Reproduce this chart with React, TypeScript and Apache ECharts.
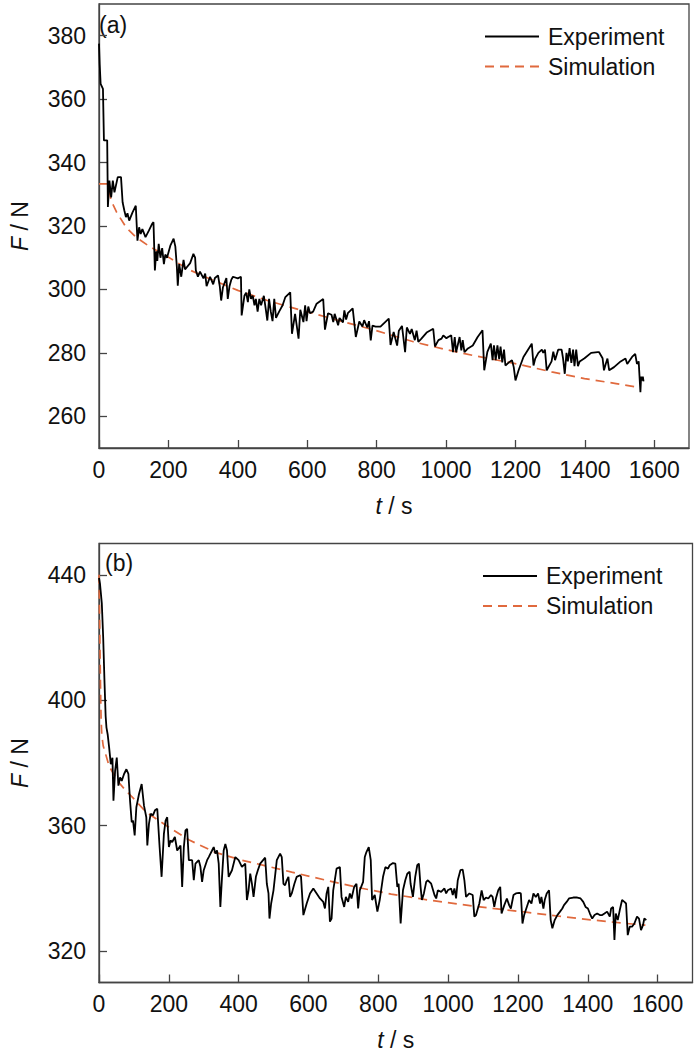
import React, { useEffect, useRef } from "react";
import * as echarts from "echarts";

const FONT = "'Liberation Sans', Arial, Helvetica, sans-serif";
const AXIS_COLOR = "#444";
const TEXT_COLOR = "#111";
const SIM_COLOR = "#E0693D";

const xTicks = [0, 200, 400, 600, 800, 1000, 1200, 1400, 1600];
const yTicksA = [260, 280, 300, 320, 340, 360, 380];
const yTicksB = [320, 360, 400, 440];
const legendNames = ["Experiment", "Simulation"];

// Panel (a): experiment, [t (s), F (N)]
const expA = [
  [0, 377.5], [2, 371], [4.7, 364.8], [11.4, 363.2], [14.2, 347], [23.6, 347], [25.6, 326],
  [30, 334.3], [35, 329], [39.8, 334.3], [44.5, 330.6], [54, 335.4], [63.4, 335.4], [68, 327.5],
  [73, 324.9], [77.6, 322.8], [82, 324], [87, 321.7], [96.6, 324.3], [106, 326.4], [110.8, 315.4],
  [115.6, 319.6], [120, 317.5], [125, 319], [134, 316.5], [144, 318.6], [153, 320.7], [157, 321.2],
  [161, 306], [165, 312], [168, 309], [172, 314.4], [177, 310], [182, 313], [187, 308], [191, 311],
  [196, 310], [205.5, 313.8], [215, 316], [220, 313.5], [224.4, 307], [227, 301.2], [231, 308],
  [237, 304], [243.6, 309.3], [248, 306.3], [253, 307], [262.6, 308.3], [272, 311.2], [277, 310],
  [279, 306], [285, 304], [291, 305.6], [301, 303.5], [306, 305], [310, 301], [320, 304],
  [329, 301.6], [334, 303.6], [343, 304.4], [348, 301], [352, 296.5], [357, 300.6], [367, 303.6],
  [371, 297], [376, 301], [381, 303], [386, 304], [400, 303.5], [409, 304], [411, 291.8],
  [419, 298], [424, 299], [429, 296], [433, 300], [438, 297], [443, 298], [448, 295], [452, 297],
  [457, 293], [462, 297], [467, 295], [475, 298], [481, 293.4], [485, 290.2], [490, 297],
  [495, 293], [500, 290], [505, 297], [510, 291], [519, 293], [529, 295], [537, 297.6],
  [551, 299.1], [556, 286], [565, 292.3], [575, 284.5], [580, 293.6], [589, 289.7], [594, 295],
  [598, 290], [603, 294.6], [608, 292.5], [617, 293], [627, 295.5], [646, 297], [651, 287.3],
  [660, 292.5], [670, 292], [675, 289.7], [679, 292.3], [689, 288.7], [693, 291], [703, 289.6],
  [707, 293.4], [712, 290.5], [717, 292.5], [731, 294], [740, 285], [750, 289.9], [759, 288.3],
  [764, 290.3], [773, 288], [778, 290], [783, 283.9], [788, 288.6], [797, 288.3], [811, 288.3],
  [835, 290.8], [840, 282.5], [849, 286.6], [859, 282.3], [864, 287], [873, 288.5], [882, 280.2],
  [887, 288], [896, 286], [901, 287.5], [910, 284], [915, 287], [920, 283.5], [929, 284.5],
  [944, 286.4], [963, 287.6], [968, 282], [978, 284], [987, 284.5], [992, 285.5], [1001, 284.6],
  [1006, 285], [1015, 285.5], [1020, 280.2], [1025, 285], [1029, 280.2], [1039, 285],
  [1044, 280.8], [1048, 284], [1053, 280.2], [1063, 281.4], [1077, 282.3], [1091, 285],
  [1105, 287.1], [1110, 274.5], [1119, 280.3], [1129, 282.9], [1134, 277.7], [1138, 282.4],
  [1143, 277.7], [1148, 282.4], [1153, 278], [1157, 282], [1162, 277], [1167, 281], [1171, 276],
  [1181, 277], [1190, 277.7], [1195, 275.5], [1200, 271.3], [1209, 274.5], [1223, 278.7],
  [1247, 282.9], [1252, 276], [1257, 278.2], [1266, 280], [1276, 281], [1280, 280], [1285, 281],
  [1290, 274.5], [1304, 277.3], [1309, 280.4], [1314, 277.7], [1323, 281], [1333, 281],
  [1337, 278.3], [1342, 273.4], [1347, 280], [1351, 277.3], [1356, 281.5], [1361, 276.8],
  [1366, 281], [1370, 275.8], [1375, 281], [1380, 275.8], [1385, 277.3], [1399, 278.3],
  [1418, 280], [1437, 280.2], [1441, 280.2], [1451, 278.3], [1455, 274.5], [1460, 276.5],
  [1465, 278.2], [1470, 274.5], [1484, 275.5], [1503, 277.3], [1517, 278.2], [1522, 276.5],
  [1536, 278.7], [1545, 279.7], [1550, 276.5], [1555, 277.3], [1560, 267.6], [1562, 272.5],
  [1565, 271.3], [1567, 272.5], [1569, 271],
];

// Panel (a): simulation
const simA = [
  [0, 333.3], [25, 333.3], [35, 328], [50, 324.5], [78, 319.6], [106, 316.5], [149, 313.3],
  [201, 310.1], [258, 306.3], [305, 304], [400, 299.7], [485, 296.5], [551, 294.4], [622, 292.3],
  [707, 289.7], [793, 287.2], [906, 283.5], [1001, 281], [1086, 279], [1209, 276.4], [1304, 274],
  [1399, 271.9], [1490, 270.3], [1560, 269],
];

// Panel (b): experiment
const expB = [
  [0, 439], [3, 437], [8, 431], [12, 420], [16, 405], [19, 395], [21.4, 391.3], [25, 389],
  [29, 385], [33.8, 379.6], [38.5, 381.7], [41.4, 368], [46.1, 377.5], [50.9, 381.7],
  [55.6, 372.8], [60.4, 375.4], [65.1, 374.3], [71.8, 376.5], [78.5, 378], [84.2, 376.5],
  [88.9, 368], [93.7, 361.1], [97.5, 361.6], [102.2, 356.9], [107, 365.9], [114.6, 370.1],
  [122.2, 373.3], [128.9, 366.4], [135.5, 362.7], [138.4, 353.7], [143.1, 360.6], [147.9, 363.8],
  [154.5, 363.3], [160.3, 364.9], [166.9, 365.4], [173.6, 353.2], [179.3, 343.7], [185.9, 357.4],
  [190.7, 361.6], [195.4, 362.7], [200.2, 353.2], [204.9, 355.3], [209.7, 354.8], [217.3, 356.4],
  [224, 352.1], [233.5, 353.7], [238.2, 340.5], [243, 353.2], [247.7, 358.5], [252.5, 359],
  [257.3, 349], [266.8, 349], [271.5, 342.6], [276.3, 347.9], [285.8, 349], [290.5, 346.9],
  [295.3, 342.1], [300, 345.8], [309.6, 349], [314.3, 350], [323.8, 352.1], [328.6, 353.2],
  [333.3, 351.1], [338.1, 352.1], [342.9, 347.9], [347.6, 334.1], [352.4, 343.7], [357.1, 352.1],
  [361.9, 354.2], [366.6, 352.1], [371.4, 343.7], [380.9, 345.8], [390.4, 350], [399.9, 349],
  [409.4, 346.9], [418.9, 347.9], [423.7, 336.3], [428.4, 339.4], [433.2, 344.7], [438, 341.5],
  [442.7, 337.3], [449.4, 343.7], [455, 345.8], [461.7, 347.9], [476, 349.8], [480.7, 341.5],
  [485.5, 338.4], [488.3, 330.4], [493.1, 335.2], [499.8, 339.4], [509.3, 349], [518.8, 351.1],
  [523.5, 350], [528.3, 341.5], [533, 341], [537.8, 342.6], [542.6, 343.7], [547.3, 337.3],
  [552.1, 338.4], [559.7, 341.5], [566.3, 343.7], [575.9, 344.2], [578.7, 343.7], [585.4, 331.5],
  [594.9, 335.2], [604.4, 338.4], [613.9, 340], [623.4, 338.4], [632.9, 336.8], [642.4, 335.7],
  [647.2, 333.6], [651.9, 338.4], [656.7, 340.5], [661.4, 329.4], [666.2, 330.4], [670.9, 339.4],
  [680.5, 346.3], [690, 346.8], [694.7, 337.3], [702.3, 334.1], [707.1, 337.3], [713.7, 335.7],
  [718.5, 338.4], [723.3, 336.8], [730.9, 340.5], [737.5, 341.5], [742.3, 333.6], [747, 339.4],
  [756.5, 342.1], [761.3, 350], [766, 351.6], [772.7, 353.2], [778.4, 349], [782.2, 336.3],
  [789.8, 337.9], [797.4, 332.6], [804.1, 336.3], [813.6, 343.7], [820.3, 346.8], [827.9, 346.3],
  [832.6, 347.4], [842.1, 348.1], [848.8, 347.9], [854.5, 340.5], [858.3, 341.5], [864, 328.8],
  [870.7, 339.4], [877.3, 342.6], [883, 344.7], [889.7, 345.3], [892.5, 341.5], [899.2, 337.3],
  [905.8, 343.7], [911.6, 347.4], [916.3, 347.9], [921.1, 340.5], [924.9, 336.3], [930.6, 338.4],
  [937.2, 342.1], [942, 342.6], [951.5, 341.5], [961, 337.9], [965.8, 336.8], [970.5, 339.4],
  [980, 338.9], [989.5, 340], [994.3, 338.4], [999, 339.4], [1008.6, 340], [1013.3, 337.9],
  [1018.1, 340], [1022.8, 336.8], [1027.6, 342.6], [1035.2, 345.8], [1041.8, 346], [1046.6, 342.6],
  [1051.3, 337.3], [1060.9, 338.4], [1070.4, 337.9], [1075.1, 331], [1079.9, 331.5], [1089.4, 335.2],
  [1096, 339.4], [1101.8, 336.3], [1108.4, 337.1], [1115.1, 336.8], [1122.7, 337.9], [1127.4, 337.3],
  [1132.2, 334.1], [1136.9, 336.8], [1143.6, 339.4], [1149.3, 340.5], [1153.1, 332], [1160.7, 334.6],
  [1168.3, 336.8], [1175, 334.6], [1179.7, 333.6], [1187.3, 337.9], [1194, 338.4], [1203.5, 338.6],
  [1208.3, 338.4], [1213, 328.8], [1217.8, 331.5], [1225.4, 334.1], [1232, 336.3], [1238.7, 335.2],
  [1244.4, 338.4], [1251.1, 337.3], [1257.7, 338.4], [1263.4, 335.2], [1267.2, 337.3], [1272.9, 333.6],
  [1276.7, 336.3], [1282.4, 338.4], [1289.1, 339.4], [1293.8, 329.9], [1298.6, 327.3], [1305.3, 329.9],
  [1312.9, 331.5], [1320.5, 332.6], [1327.1, 333.6], [1331.9, 334.7], [1339.5, 335.7], [1346.2, 336.8],
  [1358.5, 337.1], [1369.9, 337.1], [1379.4, 336.8], [1387.1, 335.7], [1393.7, 334.1], [1400.4, 333.6],
  [1406.1, 332], [1412.7, 330.4], [1419.4, 331.5], [1427, 332], [1434.6, 331.5], [1441.3, 331.5],
  [1447.9, 332], [1455.5, 332.6], [1463.1, 331], [1466.9, 333.6], [1472.6, 334.1], [1476.4, 323.6],
  [1480.2, 332], [1485.9, 329.9], [1491.7, 333.1], [1498.3, 336.3], [1505, 335.7], [1509.7, 335.2],
  [1514.5, 325.1], [1520.2, 327.8], [1526.8, 327.8], [1533.5, 328.8], [1541.1, 331], [1546.8, 330.4],
  [1552.5, 326.7], [1558.2, 328.3], [1562, 330.4], [1567.7, 329.9],
];

// Panel (b): simulation
const simB = [
  [0, 440], [1.5, 428], [3, 415], [4.5, 403], [6, 394], [8, 389], [12, 385.5], [29, 379],
  [53, 374.3], [76, 371.3], [105, 368], [133, 364.5], [200, 359.5], [257, 355.5], [333, 351.5],
  [409, 349], [485, 347], [552, 345.2], [647, 342.7], [742, 340.3], [837, 338.2], [932, 336.5],
  [1028, 335], [1123, 333.7], [1218, 332.5], [1313, 331.2], [1408, 330], [1503, 328.9], [1565, 328.3],
];

const FS = 23;
const plain = (v: number) => String(v);

function xAxisCfg(gridIndex: number) {
  return {
    type: "value",
    gridIndex,
    min: 0,
    max: 1700,
    axisLine: { show: true, onZero: false, lineStyle: { color: AXIS_COLOR, width: 1.3 } },
    axisTick: { show: true, inside: true, length: 8, customValues: xTicks, lineStyle: { color: AXIS_COLOR, width: 1.3 } },
    axisLabel: { customValues: xTicks, formatter: plain, fontSize: FS, color: TEXT_COLOR, fontFamily: FONT, margin: 10 },
    splitLine: { show: false },
    name: "{i|t} / s",
    nameLocation: "middle",
    nameGap: 46,
    nameMoveOverlap: false,
    nameTextStyle: {
      fontSize: FS, color: TEXT_COLOR, fontFamily: FONT,
      rich: { i: { fontStyle: "italic", fontSize: FS, color: TEXT_COLOR, fontFamily: FONT } },
    },
  };
}

function yAxisCfg(gridIndex: number, min: number, max: number, ticks: number[]) {
  return {
    type: "value",
    gridIndex,
    min,
    max,
    axisLine: { show: true, onZero: false, lineStyle: { color: AXIS_COLOR, width: 1.3 } },
    axisTick: { show: true, inside: true, length: 8, customValues: ticks, lineStyle: { color: AXIS_COLOR, width: 1.3 } },
    axisLabel: { customValues: ticks, formatter: plain, fontSize: FS, color: TEXT_COLOR, fontFamily: FONT, margin: 13 },
    splitLine: { show: false },
    name: "{i|F} / N",
    nameLocation: "middle",
    nameGap: 68,
    nameRotate: 90,
    nameMoveOverlap: false,
    nameTextStyle: {
      fontSize: FS, color: TEXT_COLOR, fontFamily: FONT,
      rich: { i: { fontStyle: "italic", fontSize: FS, color: TEXT_COLOR, fontFamily: FONT } },
    },
  };
}

function legendCfg(left: number, top: number) {
  return {
    orient: "vertical",
    left,
    top,
    padding: 0,
    itemWidth: 54,
    itemHeight: 14,
    itemGap: 7,
    data: legendNames,
    selectedMode: false,
    itemStyle: { opacity: 0 },
    textStyle: { fontSize: FS, color: TEXT_COLOR, fontFamily: FONT, padding: [0, 0, 0, 4] },
  };
}

function expSeries(idx: number, data: number[][]) {
  return {
    type: "line",
    name: "Experiment",
    xAxisIndex: idx,
    yAxisIndex: idx,
    data,
    symbol: "none",
    showSymbol: false,
    lineStyle: { color: "#000", width: 1.8 },
    itemStyle: { color: "#000" },
    z: 4,
  };
}

function simSeries(idx: number, data: number[][]) {
  return {
    type: "line",
    name: "Simulation",
    xAxisIndex: idx,
    yAxisIndex: idx,
    data,
    symbol: "none",
    showSymbol: false,
    lineStyle: { color: SIM_COLOR, width: 1.7, type: [9, 6] },
    itemStyle: { color: SIM_COLOR },
    z: 3,
  };
}

export default function App() {
  const ref = useRef<HTMLDivElement>(null);
  useEffect(() => {
    if (!ref.current) return;
    const chart = echarts.init(ref.current, null, { renderer: "svg" });
    const option: any = {
      animation: false,
      backgroundColor: "#fff",
      textStyle: { fontFamily: FONT },
      grid: [
        { left: 91, top: 4, width: 598, height: 444, show: true, borderColor: AXIS_COLOR, borderWidth: 1.3, backgroundColor: "transparent" },
        { left: 96.5, top: 543.5, width: 596, height: 439, show: true, borderColor: AXIS_COLOR, borderWidth: 1.3, backgroundColor: "transparent" },
      ],
      xAxis: [xAxisCfg(0), xAxisCfg(1)],
      yAxis: [yAxisCfg(0, 250, 390, yTicksA), yAxisCfg(1, 310, 450, yTicksB)],
      legend: [legendCfg(484, 25), legendCfg(482, 564.5)],
      graphic: [
        { type: "text", left: 99, top: 13, style: { text: "(a)", fontSize: FS, fill: TEXT_COLOR, fontFamily: FONT } },
        { type: "text", left: 105, top: 551, style: { text: "(b)", fontSize: FS, fill: TEXT_COLOR, fontFamily: FONT } },
      ],
      series: [expSeries(0, expA), simSeries(0, simA), expSeries(1, expB), simSeries(1, simB)],
    };
    chart.setOption(option);
    return () => chart.dispose();
  }, []);
  return (
    <div
      ref={ref}
      style={{ position: "fixed", left: 0, top: 0, width: 700, height: 1054, background: "#fff" }}
    />
  );
}
